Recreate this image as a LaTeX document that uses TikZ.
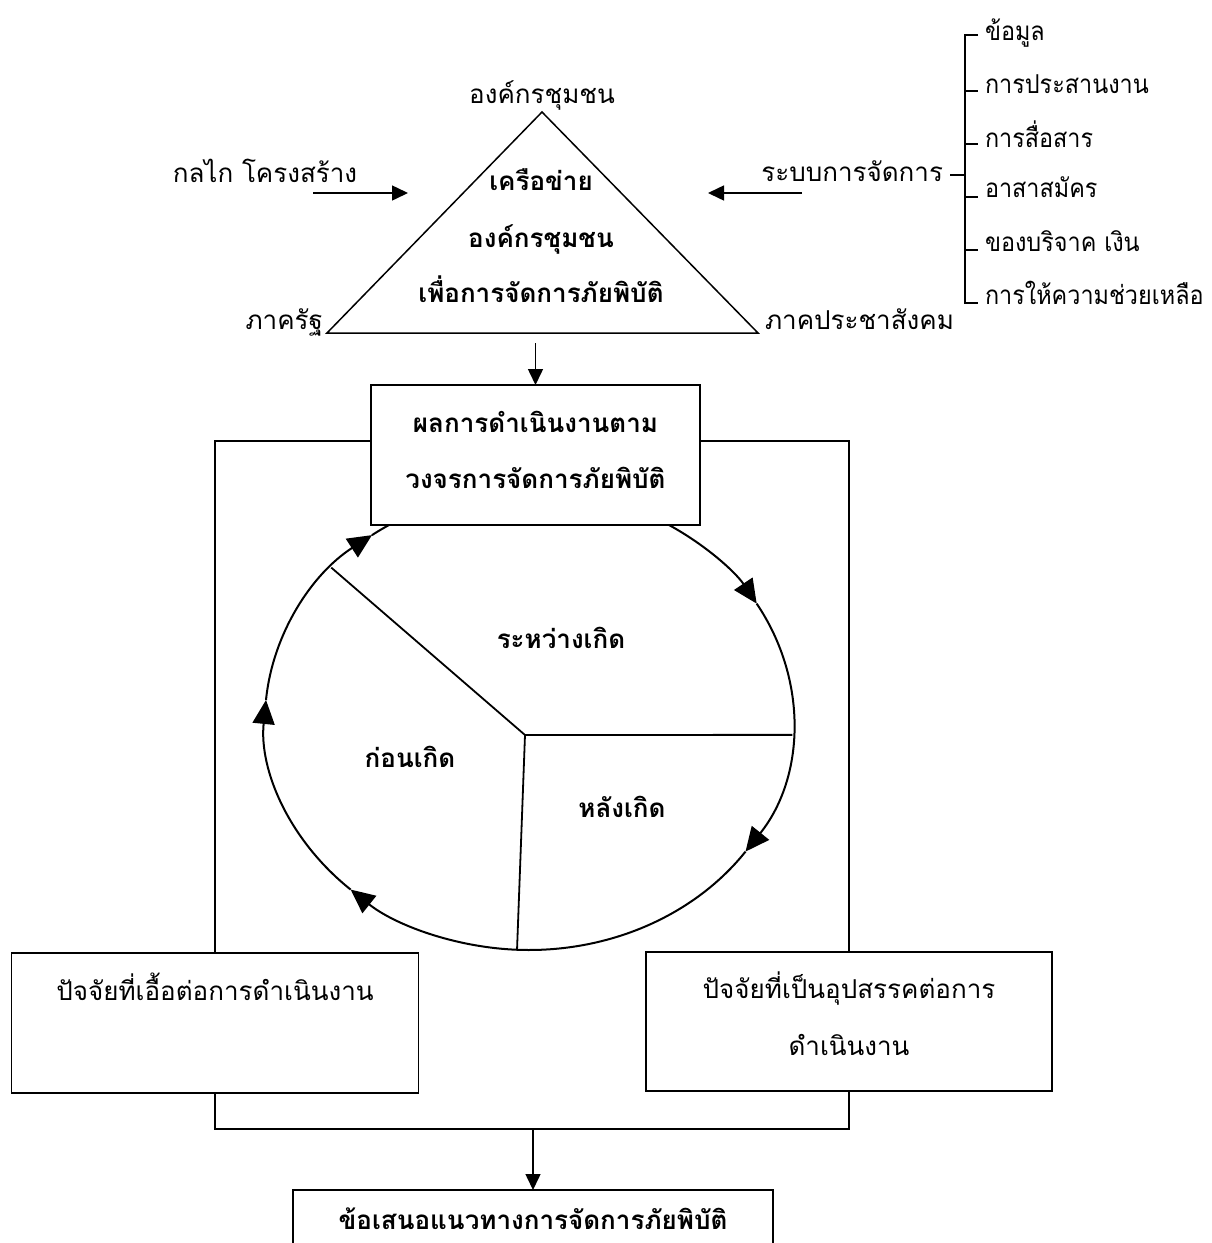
\documentclass[tikz,border=0pt]{standalone}
\usepackage{fontspec}
\setmainfont[Script=Thai]{Loma}
\usetikzlibrary{arrows.meta}
\newcommand{\narrowtext}[1]{\scalebox{0.9}[1]{#1}}
\begin{document}
\begin{tikzpicture}[x=1pt,y=-1pt,
  every node/.style={inner sep=0pt, outer sep=0pt},
  txt/.style={font=\fontsize{26}{30}\selectfont},
  btxt/.style={font=\fontsize{26}{30}\selectfont\bfseries},
  ln/.style={line width=1.5pt},
  dln/.style={line width=1.8pt},
  arr/.style={line width=1.5pt, -{Triangle[length=16pt,width=15pt]}},
  cyc/.style={line width=2pt, -{Triangle[length=24pt,width=22pt]}},
  cycl/.style={line width=2pt},
  boxn/.style={draw, line width=1.5pt, fill=white, rectangle}
]
\clip (0,0) rectangle (1212,1243);
\fill[white] (0,0) rectangle (1212,1243);

% ---------- triangle ----------
\coordinate (apex) at (542,112);
\coordinate (bl) at (327,333);
\coordinate (br) at (758,333);
\draw[ln, line join=miter] (apex) -- (bl) -- (br) -- cycle;
\node[txt, anchor=base] (lbltop) at (542,103) {องค์กรชุมชน};
\node[txt, anchor=base east] (lblstate) at (323,329) {ภาครัฐ};
\node[txt, anchor=base west] (lblcivil) at (765,329) {ภาคประชาสังคม};
\node[btxt, anchor=base] (tri1) at (541,190) {เครือข่าย};
\node[btxt, anchor=base] (tri2) at (541,247) {องค์กรชุมชน};
\node[btxt, anchor=base] (tri3) at (541,302) {เพื่อการจัดการภัยพิบัติ};

% ---------- side inputs ----------
\node[txt, anchor=base] (mech) at (265,182) {กลไก โครงสร้าง};
\coordinate (la1) at (313,193);
\coordinate (la2) at (408,193);
\draw[arr] (la1) -- (la2);
\node[txt, anchor=base east] (mgmt) at (943,181) {ระบบการจัดการ};
\coordinate (ra1) at (802,193);
\coordinate (ra2) at (708,193);
\draw[arr] (ra1) -- (ra2);

% ---------- bracket list ----------
\draw[ln] (950,175) -- (965,175);
\draw[ln] (978,35) -- (965,35) -- (965,303) -- (978,303);
\foreach \yy in {91,144,197,250} \draw[ln] (965,\yy) -- (978,\yy);
\node[txt, anchor=base west] (it1) at (985,40) {\narrowtext{ข้อมูล}};
\node[txt, anchor=base west] (it2) at (985,93) {\narrowtext{การประสานงาน}};
\node[txt, anchor=base west] (it3) at (985,147) {\narrowtext{การสื่อสาร}};
\node[txt, anchor=base west] (it4) at (985,197) {\narrowtext{อาสาสมัคร}};
\node[txt, anchor=base west] (it5) at (985,251) {\narrowtext{ของบริจาค เงิน}};
\node[txt, anchor=base west] (it6) at (985,304) {\narrowtext{การให้ความช่วยเหลือ}};

% ---------- cycle ----------
\coordinate (cc) at (529,720);
\coordinate (dc) at (525,735);
\draw[dln] (dc) -- ([shift={(221.5:264 and 230)}]cc);
\draw[dln] (dc) -- ([shift={(3.7:264 and 230)}]cc);
\draw[dln] (dc) -- ([shift={(92.6:264 and 230)}]cc);
\draw[cyc] ([shift={(-58:264 and 230)}]cc) arc[start angle=-58, end angle=-30.4, x radius=264, y radius=230];
\draw[cyc] ([shift={(-30.4:264 and 230)}]cc) arc[start angle=-30.4, end angle=34.9, x radius=264, y radius=230];
\draw[cyc] ([shift={(34.9:264 and 230)}]cc) arc[start angle=34.9, end angle=132.5, x radius=264, y radius=230];
\draw[cyc] ([shift={(132.5:264 and 230)}]cc) arc[start angle=132.5, end angle=185, x radius=264, y radius=230];
\draw[cyc] ([shift={(185:264 and 230)}]cc) arc[start angle=185, end angle=233.5, x radius=264, y radius=230];
\draw[cycl] ([shift={(233.5:264 and 230)}]cc) arc[start angle=233.5, end angle=240, x radius=264, y radius=230];
\node[btxt, anchor=base] (during) at (561,648) {ระหว่างเกิด};
\node[btxt, anchor=base] (before) at (410,767) {ก่อนเกิด};
\node[btxt, anchor=base] (after) at (622,817) {หลังเกิด};

% ---------- result box ----------
\node[boxn, minimum width=329pt, minimum height=140pt] (res) at (535.5,455) {};
\node[btxt, anchor=base] (res1) at (535.5,432) {ผลการดำเนินงานตาม};
\node[btxt, anchor=base] (res2) at (535.5,488) {วงจรการจัดการภัยพิบัติ};
\coordinate (tribase) at (535.5,343);
\draw[arr] (tribase) -- (res.north);

% ---------- factor boxes ----------
\node[boxn, minimum width=407pt, minimum height=140pt] (lbox) at (215,1023) {};
\node[txt, anchor=base] (lbt) at (215,1000) {ปัจจัยที่เอื้อต่อการดำเนินงาน};
\node[boxn, minimum width=406pt, minimum height=139pt] (rbox) at (849,1021.5) {};
\node[txt, anchor=base] (rbt1) at (849,998) {ปัจจัยที่เป็นอุปสรรคต่อการ};
\node[txt, anchor=base] (rbt2) at (849,1055) {ดำเนินงาน};

% ---------- frame ----------
\coordinate (fl) at (215,441);
\coordinate (fr) at (849,441);
\draw[ln] (res.west |- fl) -- (fl) -- (lbox.north);
\draw[ln] (res.east |- fr) -- (fr) -- (rbox.north);
\coordinate (fb) at (533,1129);
\draw[ln] (lbox.south) -- (lbox.south |- fb) -- (rbox.south |- fb) -- (rbox.south);

% ---------- proposal ----------
\node[boxn, minimum width=480pt, minimum height=100pt] (prop) at (533,1240) {};
\node[btxt, anchor=base] (propt) at (533,1229) {ข้อเสนอแนวทางการจัดการภัยพิบัติ};
\draw[arr] (fb) -- (prop.north);
\end{tikzpicture}
\end{document}
